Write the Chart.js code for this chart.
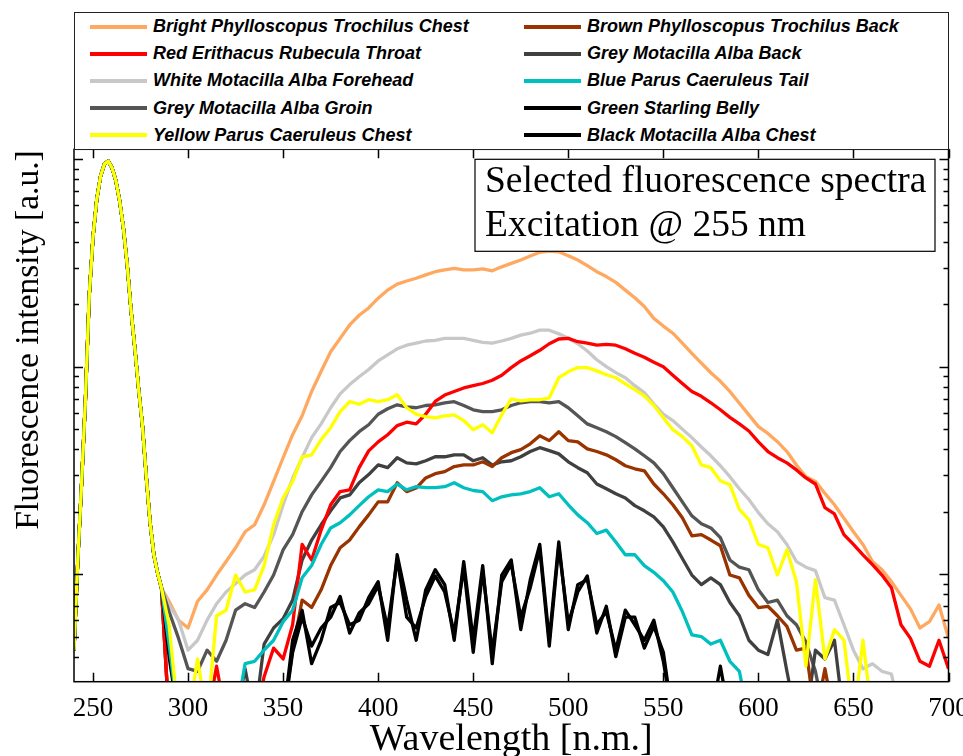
<!DOCTYPE html>
<html>
<head>
<meta charset="utf-8">
<title>Selected fluorescence spectra</title>
<script src="https://cdn.jsdelivr.net/npm/chart.js@4.4.1/dist/chart.umd.min.js"></script>
<style>
  html, body { margin: 0; padding: 0; background: #fff; overflow: hidden; }
  #wrap { position: relative; width: 1000px; height: 756px; }
  #legend {
    position: absolute; left: 74px; top: 12px; width: 875px; height: 138px;
    box-sizing: border-box; border: 1.5px solid #222; background: #fff;
    padding-left: 15px;
    display: grid; grid-template-columns: 434px 1fr; grid-template-rows: repeat(5, 1fr);
    grid-auto-flow: column;
    font: italic bold 18px "Liberation Sans", Arial, sans-serif; color: #000;
  }
  #legend .item { display: flex; align-items: center; white-space: nowrap; }
  #legend .swatch { width: 57px; height: 4px; margin-right: 6px; flex: none; }
</style>
</head>
<body>
<div id="wrap">
  <canvas id="spectra" width="1000" height="756"></canvas>
  <div id="legend"></div>
</div>
<script>
// excitation line, shared by every sample (nm / a.u.)
const waveExc = [240, 242, 244, 246, 248, 250, 252, 254, 256, 258, 260, 262,
                 264, 266, 268, 270, 272, 274, 276, 278, 280, 282, 284, 286];
const excPeak = [0.0043, 0.0117, 0.0275, 0.069, 0.219, 0.422, 0.644, 0.83, 0.95, 0.98, 0.91, 0.79,
                 0.63, 0.466, 0.309, 0.187, 0.123, 0.078, 0.052, 0.0297, 0.0178, 0.0124, 0.0101, 0.0086];

// emission part, 5 nm steps
const waveEm = [290, 295, 300, 305, 310, 315, 320, 325, 330, 335,
                340, 345, 350, 355, 360, 365, 370, 375, 380, 385,
                390, 395, 400, 405, 410, 415, 420, 425, 430, 435,
                440, 445, 450, 455, 460, 465, 470, 475, 480, 485,
                490, 495, 500, 505, 510, 515, 520, 525, 530, 535,
                540, 545, 550, 555, 560, 565, 570, 575, 580, 585,
                590, 595, 600, 605, 610, 615, 620, 625, 630, 635,
                640, 645, 650, 655, 660, 665, 670, 675, 680, 685,
                690, 695, 700];

const brightChest = [0.0074, 0.0060, 0.0055, 0.0074, 0.0084, 0.0099, 0.0115, 0.0134, 0.016, 0.0173,
                     0.0216, 0.028, 0.0364, 0.047, 0.058, 0.076, 0.095, 0.118, 0.137, 0.159,
                     0.177, 0.192, 0.214, 0.234, 0.25, 0.259, 0.267, 0.277, 0.287, 0.293,
                     0.298, 0.293, 0.293, 0.296, 0.29, 0.303, 0.315, 0.327, 0.342, 0.356,
                     0.361, 0.358, 0.343, 0.327, 0.307, 0.287, 0.272, 0.255, 0.234, 0.215,
                     0.195, 0.171, 0.157, 0.145, 0.13, 0.116, 0.104, 0.0935, 0.085, 0.076,
                     0.0666, 0.0586, 0.0514, 0.0477, 0.0435, 0.039, 0.0336, 0.0295, 0.028, 0.0245,
                     0.0216, 0.0186, 0.016, 0.0139, 0.0115, 0.0105, 0.0092, 0.0079, 0.0068, 0.0055,
                     0.0059, 0.0071, 0.0049];
const redThroat = [0.002, 0.002, 0.002, 0.002, 0.002, 0.0036, 0.002, 0.002, 0.002, 0.002,
                   0.0032, 0.0044, 0.0039, 0.0057, 0.0139, 0.0117, 0.0163, 0.0216, 0.025, 0.0255,
                   0.0326, 0.0393, 0.0434, 0.047, 0.052, 0.054, 0.053, 0.059, 0.068, 0.073,
                   0.076, 0.079, 0.081, 0.083, 0.086, 0.091, 0.099, 0.1066, 0.113, 0.12,
                   0.129, 0.136, 0.137, 0.132, 0.13, 0.127, 0.128, 0.127, 0.122, 0.116,
                   0.111, 0.105, 0.1, 0.091, 0.083, 0.076, 0.072, 0.067, 0.062, 0.057,
                   0.053, 0.049, 0.0434, 0.039, 0.0364, 0.0344, 0.0318, 0.0291, 0.0272, 0.0209,
                   0.0195, 0.0155, 0.0139, 0.0124, 0.0111, 0.0099, 0.0086, 0.0057, 0.0049, 0.0038,
                   0.0036, 0.0048, 0.0035];
const whiteForehead = [0.0071, 0.006, 0.0043, 0.0048, 0.006, 0.0072, 0.0082, 0.009, 0.0099, 0.0105,
                       0.0122, 0.0155, 0.0216, 0.029, 0.0364, 0.0455, 0.053, 0.0634, 0.074, 0.082,
                       0.0895, 0.097, 0.1066, 0.114, 0.122, 0.127, 0.13, 0.133, 0.134, 0.137,
                       0.137, 0.137, 0.134, 0.131, 0.13, 0.133, 0.137, 0.142, 0.145, 0.15,
                       0.15, 0.144, 0.137, 0.129, 0.119, 0.108, 0.1, 0.0936, 0.0885, 0.081,
                       0.075, 0.066, 0.059, 0.055, 0.05, 0.0455, 0.041, 0.0372, 0.0333, 0.0295,
                       0.0258, 0.0229, 0.0198, 0.0175, 0.016, 0.0139, 0.0115, 0.0108, 0.0104, 0.0077,
                       0.0075, 0.0057, 0.0043, 0.0035, 0.0037, 0.0034, 0.0033, 0.002, 0.002, 0.002,
                       0.002, 0.002, 0.002];
const greyGroin = [0.0066, 0.0049, 0.0035, 0.0034, 0.0043, 0.0038, 0.0048, 0.0067, 0.0072, 0.0069,
                   0.0082, 0.0099, 0.0131, 0.0155, 0.02, 0.0241, 0.028, 0.0326, 0.039, 0.044,
                   0.0486, 0.0525, 0.059, 0.0627, 0.0655, 0.064, 0.0634, 0.065, 0.0655, 0.067,
                   0.0678, 0.065, 0.062, 0.0607, 0.0607, 0.062, 0.065, 0.067, 0.0678, 0.0678,
                   0.067, 0.0678, 0.0634, 0.058, 0.053, 0.0508, 0.0486, 0.046, 0.043, 0.0402,
                   0.0372, 0.0344, 0.0305, 0.0261, 0.0223, 0.0191, 0.0175, 0.0167, 0.015, 0.0117,
                   0.0108, 0.0105, 0.0084, 0.0073, 0.0075, 0.0063, 0.0057, 0.0047, 0.0034, 0.002,
                   0.002, 0.002, 0.002, 0.002, 0.002, 0.002, 0.002, 0.002, 0.002, 0.002,
                   0.002, 0.002, 0.002];
const yellowChest = [0.0057, 0.002, 0.002, 0.0039, 0.002, 0.0063, 0.0067, 0.0099, 0.0082, 0.0084,
                     0.011, 0.0173, 0.0233, 0.028, 0.0368, 0.0376, 0.0445, 0.0508, 0.0607, 0.0678,
                     0.066, 0.0693, 0.0678, 0.0693, 0.0733, 0.0634, 0.059, 0.0574, 0.0567, 0.058,
                     0.0586, 0.055, 0.0497, 0.0525, 0.048, 0.0586, 0.07, 0.0685, 0.0693, 0.0693,
                     0.0708, 0.0885, 0.0945, 0.099, 0.099, 0.0955, 0.0915, 0.0885, 0.0826, 0.0775,
                     0.0724, 0.065, 0.0567, 0.0497, 0.046, 0.0416, 0.0336, 0.0326, 0.0282, 0.027,
                     0.0205, 0.0183, 0.0139, 0.0134, 0.0099, 0.0131, 0.0092, 0.0036, 0.0094, 0.0039,
                     0.0054, 0.0048, 0.002, 0.0048, 0.002, 0.002, 0.002, 0.002, 0.002, 0.002,
                     0.002, 0.002, 0.002];
const brownBack = [0.002, 0.002, 0.002, 0.002, 0.002, 0.002, 0.002, 0.002, 0.002, 0.002,
                   0.002, 0.002, 0.002, 0.0043, 0.0075, 0.0069, 0.0084, 0.011, 0.0134, 0.0146,
                   0.0169, 0.0193, 0.0223, 0.0223, 0.0276, 0.025, 0.026, 0.0291, 0.0305, 0.0312,
                   0.033, 0.0336, 0.0336, 0.0348, 0.033, 0.0364, 0.0385, 0.0398, 0.0425, 0.0465,
                   0.044, 0.0486, 0.044, 0.0434, 0.0402, 0.039, 0.0376, 0.0356, 0.0333, 0.0322,
                   0.0315, 0.0272, 0.0244, 0.0216, 0.0187, 0.0153, 0.0155, 0.0146, 0.0137, 0.0099,
                   0.0096, 0.0079, 0.0069, 0.007, 0.0063, 0.0056, 0.0043, 0.0044, 0.002, 0.0035,
                   0.002, 0.002, 0.002, 0.002, 0.002, 0.002, 0.002, 0.002, 0.002, 0.002,
                   0.002, 0.002, 0.002];
const greyBack = [0.002, 0.002, 0.002, 0.002, 0.002, 0.002, 0.002, 0.002, 0.0035, 0.002,
                  0.0046, 0.0055, 0.0061, 0.0075, 0.0117, 0.0146, 0.0173, 0.0202, 0.0233, 0.0241,
                  0.0276, 0.0302, 0.0336, 0.0326, 0.0364, 0.0344, 0.034, 0.0352, 0.0368, 0.0368,
                  0.0376, 0.0376, 0.0352, 0.0364, 0.0336, 0.0348, 0.0352, 0.0368, 0.039, 0.0407,
                  0.0394, 0.038, 0.0348, 0.0326, 0.0308, 0.0272, 0.0258, 0.0244, 0.0233, 0.0214,
                  0.0202, 0.0189, 0.0169, 0.0143, 0.0119, 0.0099, 0.0089, 0.0096, 0.0089, 0.0073,
                  0.0063, 0.0048, 0.0043, 0.0041, 0.006, 0.0034, 0.002, 0.002, 0.0043, 0.0039,
                  0.0048, 0.002, 0.002, 0.002, 0.002, 0.002, 0.002, 0.002, 0.002, 0.002,
                  0.002, 0.002, 0.002];
const blueTail = [0.0046, 0.002, 0.002, 0.002, 0.002, 0.002, 0.002, 0.002, 0.0037, 0.0038,
                  0.0043, 0.0048, 0.0059, 0.0067, 0.0096, 0.011, 0.0139, 0.0167, 0.0177, 0.0193,
                  0.0214, 0.0236, 0.0255, 0.025, 0.0272, 0.0255, 0.0264, 0.0261, 0.0261, 0.0264,
                  0.0276, 0.0261, 0.0253, 0.025, 0.0226, 0.0236, 0.0241, 0.0244, 0.025, 0.0261,
                  0.0236, 0.0244, 0.0216, 0.0193, 0.0177, 0.0157, 0.0163, 0.0143, 0.0124, 0.0124,
                  0.011, 0.0102, 0.0093, 0.0082, 0.0066, 0.0051, 0.005, 0.0046, 0.0048, 0.0038,
                  0.0034, 0.002, 0.002, 0.002, 0.002, 0.002, 0.002, 0.002, 0.002, 0.002,
                  0.002, 0.002, 0.002, 0.002, 0.002, 0.002, 0.002, 0.002, 0.002, 0.002,
                  0.002, 0.002, 0.002];
const greenBelly = [0.0044, 0.002, 0.002, 0.002, 0.002, 0.002, 0.002, 0.002, 0.002, 0.002,
                    0.002, 0.002, 0.002, 0.0048, 0.0067, 0.0037, 0.0048, 0.0069, 0.0073, 0.0057,
                    0.006, 0.0077, 0.0092, 0.0048, 0.0124, 0.0075, 0.0048, 0.0084, 0.0105, 0.0089,
                    0.0048, 0.0115, 0.0048, 0.011, 0.0037, 0.0099, 0.0117, 0.0054, 0.0094, 0.0139,
                    0.0048, 0.0143, 0.0054, 0.0089, 0.0094, 0.0057, 0.0066, 0.0043, 0.0067, 0.0057,
                    0.0048, 0.006, 0.0038, 0.002, 0.002, 0.002, 0.002, 0.002, 0.0036, 0.002,
                    0.002, 0.002, 0.002, 0.002, 0.002, 0.002, 0.002, 0.002, 0.002, 0.002,
                    0.002, 0.002, 0.002, 0.002, 0.002, 0.002, 0.002, 0.002, 0.002, 0.002,
                    0.002, 0.002, 0.002];
const blackChest = [0.004, 0.002, 0.002, 0.002, 0.002, 0.002, 0.002, 0.002, 0.002, 0.002,
                    0.002, 0.002, 0.002, 0.0042, 0.0062, 0.0045, 0.0055, 0.0062, 0.0078, 0.0052,
                    0.0065, 0.0072, 0.0088, 0.0055, 0.0118, 0.0062, 0.0055, 0.0078, 0.0098, 0.0082,
                    0.0052, 0.0108, 0.0042, 0.0104, 0.0042, 0.0092, 0.0112, 0.0062, 0.0086, 0.0132,
                    0.0045, 0.0136, 0.0058, 0.0082, 0.0098, 0.0052, 0.007, 0.004, 0.0062, 0.0062,
                    0.0044, 0.0056, 0.0042, 0.002, 0.002, 0.002, 0.002, 0.002, 0.002, 0.002,
                    0.002, 0.002, 0.002, 0.002, 0.002, 0.002, 0.002, 0.002, 0.002, 0.002,
                    0.002, 0.002, 0.002, 0.002, 0.002, 0.002, 0.002, 0.002, 0.002, 0.002,
                    0.002, 0.002, 0.002];

const sampleNames = ['Bright Phylloscopus Trochilus Chest', 'Red Erithacus Rubecula Throat',
                     'White Motacilla Alba Forehead', 'Grey Motacilla Alba Groin',
                     'Yellow Parus Caeruleus Chest', 'Brown Phylloscopus Trochilus Back',
                     'Grey Motacilla Alba Back', 'Blue Parus Caeruleus Tail',
                     'Green Starling Belly', 'Black Motacilla Alba Chest'];
const sampleData = [brightChest, redThroat, whiteForehead, greyGroin, yellowChest,
                    brownBack, greyBack, blueTail, greenBelly, blackChest];
const sampleColors = ['#FFA860', '#FF0000', '#C8C8C8', '#555555', '#FFFF00',
                      '#993300', '#404040', '#00BFBF', '#000000', '#000000'];
// lower number is painted later (on top)
const drawOrder = [10, 5, 9, 8, 1, 6, 7, 2, 3, 4];

const xTicks = [250, 300, 350, 400, 450, 500, 550, 600, 650, 700];
const yDecades = [0.001, 0.01, 0.1, 1];
const yMin = 0.00303, yMax = 1.117;

// where the axes box sits on the page
const plotBox = { left: 74, top: 149.3, right: 948.5, bottom: 681.7 };
const serif = '"Liberation Serif", "Times New Roman", serif';

function toPoints(vals) {
  const exc = waveExc.map((w, i) => ({x: w, y: excPeak[i]}));
  return exc.concat(waveEm.map((w, i) => ({x: w, y: vals[i]})));
}

// inward tick marks on all four sides plus the box
const axisFrame = {
  id: 'axisFrame',
  afterDatasetsDraw(chart) {
    const {ctx, chartArea: a, scales: {x, y}} = chart;
    ctx.save();
    ctx.strokeStyle = '#000';
    ctx.lineWidth = 1.5;
    ctx.beginPath();
    x.ticks.forEach(t => {
      const px = Math.round(x.getPixelForValue(t.value)) + 0.5;
      ctx.moveTo(px, a.bottom); ctx.lineTo(px, a.bottom - 9);
      ctx.moveTo(px, a.top); ctx.lineTo(px, a.top + 9);
    });
    y.ticks.forEach(t => {
      const py = Math.round(y.getPixelForValue(t.value)) + 0.5;
      const len = t.major ? 9 : 5;
      ctx.moveTo(a.left, py); ctx.lineTo(a.left + len, py);
      ctx.moveTo(a.right, py); ctx.lineTo(a.right - len, py);
    });
    ctx.stroke();
    ctx.strokeRect(a.left, a.top, a.right - a.left, a.bottom - a.top);
    ctx.restore();
  }
};

// text box in the upper right corner and both axis captions
const notes = {
  id: 'notes',
  afterDraw(chart) {
    const {ctx, chartArea: a} = chart;
    ctx.save();
    const bx = a.left + 401, by = a.top + 10, bw = 460, bh = 92;
    ctx.fillStyle = '#fff';
    ctx.fillRect(bx, by, bw, bh);
    ctx.strokeStyle = '#000';
    ctx.lineWidth = 1.2;
    ctx.strokeRect(bx, by, bw, bh);
    ctx.fillStyle = '#000';
    ctx.font = '37.5px ' + serif;
    ctx.textBaseline = 'alphabetic';
    ctx.fillText('Selected fluorescence spectra', bx + 10, by + 33);
    ctx.fillText('Excitation @ 255 nm', bx + 10, by + 77);

    ctx.textAlign = 'center';
    ctx.font = '38px ' + serif;
    ctx.fillText('Wavelength [n.m.]', (a.left + a.right) / 2, a.bottom + 68.5);

    ctx.translate(38, 340);
    ctx.rotate(-Math.PI / 2);
    ctx.font = '33.5px ' + serif;
    ctx.fillText('Fluorescence intensity [a.u.]', 0, 0);
    ctx.restore();
  }
};

const datasets = sampleNames.map((name, i) => ({
  label: name,
  data: toPoints(sampleData[i]),
  borderColor: sampleColors[i],
  backgroundColor: sampleColors[i],
  order: drawOrder[i],
  clip: 0
}));

const chart = new Chart(document.getElementById('spectra'), {
  type: 'line',
  data: { datasets: datasets },
  options: {
    responsive: false,
    animation: false,
    devicePixelRatio: 1,
    layout: { padding: { left: 74, top: 149.3, right: 51.5, bottom: 30 } },
    elements: {
      point: { radius: 0 },
      line: { borderWidth: 3.3, tension: 0, borderJoinStyle: 'round', fill: false }
    },
    plugins: { legend: { display: false }, tooltip: { enabled: false } },
    scales: {
      x: {
        type: 'linear', min: 240, max: 700,
        grid: { display: false, drawTicks: false, tickLength: 0 },
        border: { display: false },
        afterBuildTicks: s => { s.ticks = xTicks.map(v => ({ value: v })); },
        ticks: {
          color: '#000', padding: 14, maxRotation: 0, autoSkip: false,
          font: { family: serif, size: 27, lineHeight: 1 }
        }
      },
      y: {
        type: 'logarithmic', min: yMin, max: yMax,
        grid: { display: false, drawTicks: false, tickLength: 0 },
        border: { display: false },
        ticks: { display: false },
        afterBuildTicks: s => {
          const t = [];
          yDecades.forEach(d => {
            for (let k = 1; k <= 9; k++) {
              const v = d * k;
              if (v >= yMin && v <= yMax) t.push({ value: v, major: k === 1 });
            }
          });
          s.ticks = t;
        }
      }
    }
  },
  plugins: [axisFrame, notes]
});

// nudge the layout padding until the axes box lands on plotBox
for (let i = 0; i < 3; i++) {
  const a = chart.chartArea, p = chart.options.layout.padding;
  p.left += plotBox.left - a.left;
  p.top += plotBox.top - a.top;
  p.right += a.right - plotBox.right;
  p.bottom += a.bottom - plotBox.bottom;
  chart.update();
}

// two-column legend above the plot
const legendBox = document.getElementById('legend');
chart.data.datasets.forEach(ds => {
  const item = document.createElement('div');
  item.className = 'item';
  const sw = document.createElement('span');
  sw.className = 'swatch';
  sw.style.background = ds.borderColor;
  const txt = document.createElement('span');
  txt.textContent = ds.label;
  item.appendChild(sw);
  item.appendChild(txt);
  legendBox.appendChild(item);
});
</script>
</body>
</html>
